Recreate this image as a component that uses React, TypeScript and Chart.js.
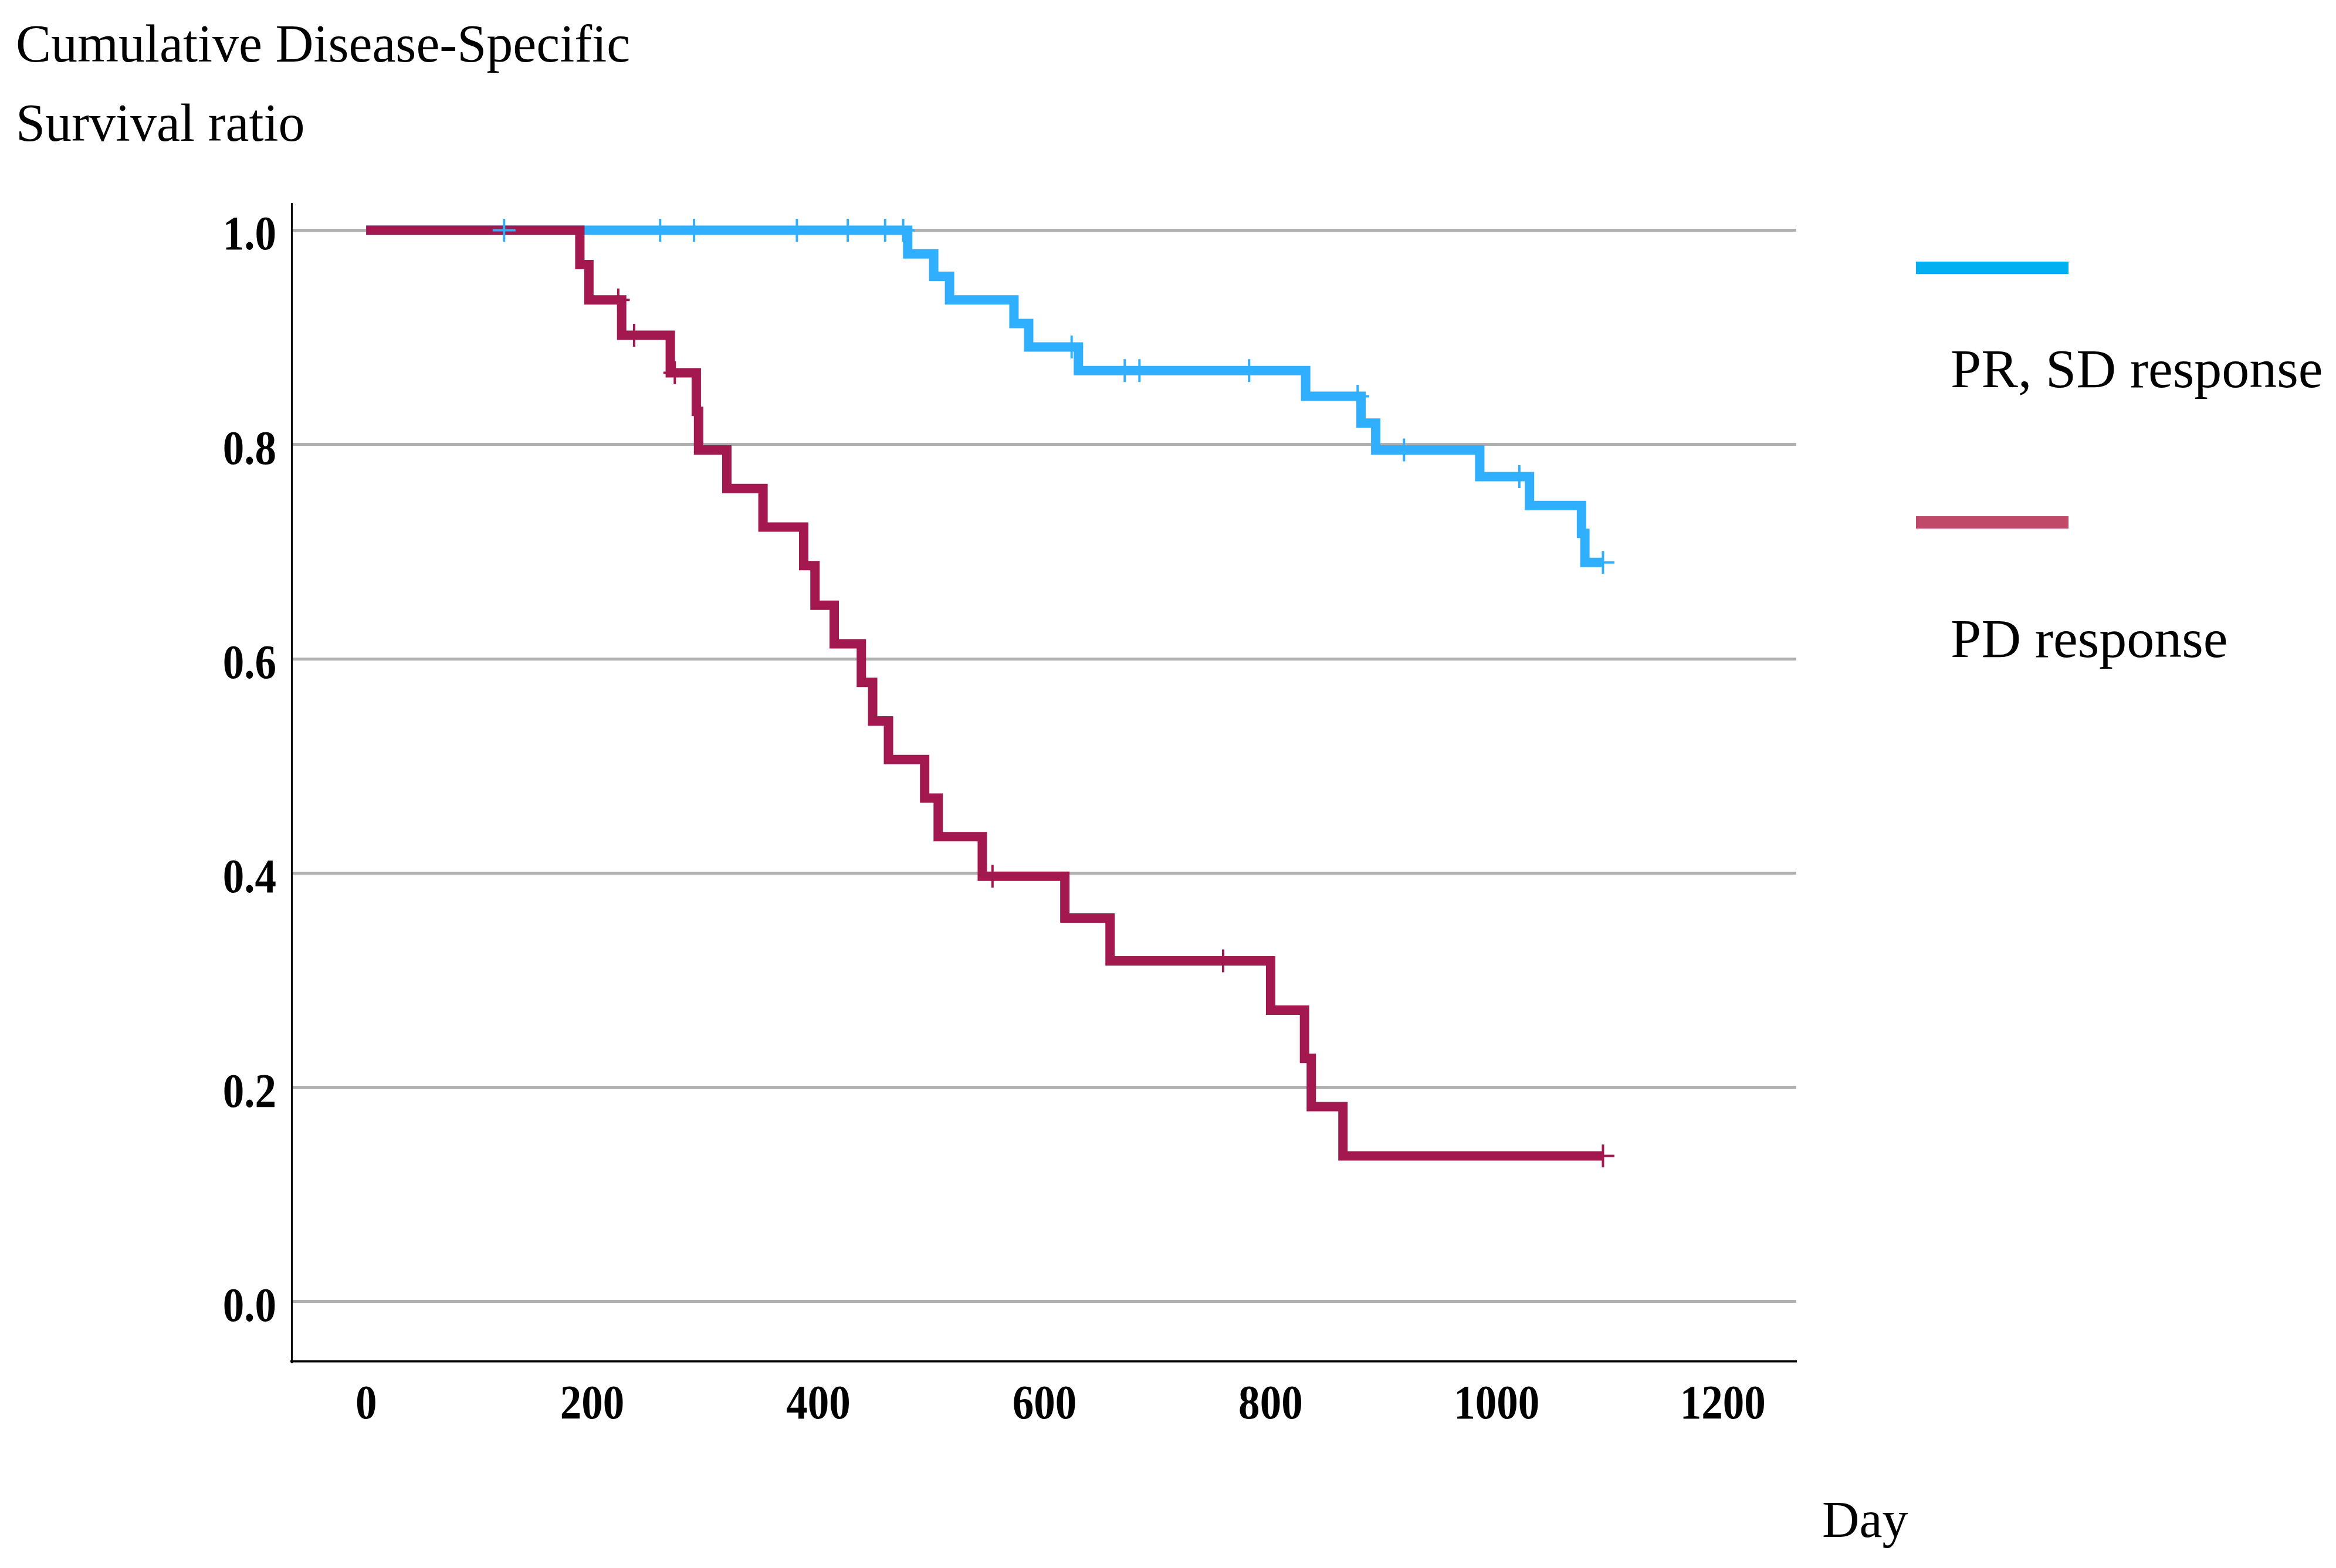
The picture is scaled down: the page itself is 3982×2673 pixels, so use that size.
import React, { useEffect, useRef } from "react";
import { Chart, registerables } from "chart.js";

Chart.register(...registerables);

// ---- Data ----
const prDays = [0, 479, 502, 516, 573, 586, 630, 831, 880, 893, 985, 1029, 1075, 1078, 1094];
const prSurv = [1.0, 0.978, 0.957, 0.935, 0.913, 0.891, 0.869, 0.845, 0.82, 0.795, 0.77, 0.743, 0.717, 0.69, 0.69];
const prCensorDays = [122, 260, 290, 381, 426, 459, 475, 624, 671, 684, 781, 877, 918, 1020, 1094];
const prCensorSurv = [1, 1, 1, 1, 1, 1, 1, 0.891, 0.869, 0.869, 0.869, 0.845, 0.795, 0.77, 0.69];

const pdDays = [0, 189, 197, 226, 269, 292, 294, 319, 351, 387, 397, 414, 438, 448, 462, 494, 506, 545, 618, 658, 800, 830, 836, 864, 1094];
const pdSurv = [1.0, 0.968, 0.935, 0.902, 0.867, 0.831, 0.795, 0.759, 0.723, 0.687, 0.65, 0.614, 0.578, 0.542, 0.506, 0.47, 0.434, 0.397, 0.358, 0.318, 0.272, 0.227, 0.182, 0.136, 0.136];
const pdCensorDays = [223, 237, 273, 554, 758, 1094];
const pdCensorSurv = [0.935, 0.902, 0.867, 0.397, 0.318, 0.136];

const xTicks = [0, 200, 400, 600, 800, 1000, 1200];
const yTicks = [0.0, 0.2, 0.4, 0.6, 0.8, 1.0];
const yTickLabels = ["0.0", "0.2", "0.4", "0.6", "0.8", "1.0"];
const xTickLabels = ["0", "200", "400", "600", "800", "1000", "1200"];

const titleLines = ["Cumulative Disease-Specific", "Survival ratio"];
const legendLabels = ["PR, SD response", "PD response"];
const xAxisLabel = "Day";

const PR_COLOR = "#31AFFF";
const PD_COLOR = "#A2184F";
const PR_LEGEND = "#00B0F0";
const PD_LEGEND = "#C04868";

const W = 3982;
const H = 2673;

function pts(xs: number[], ys: number[]) {
  return xs.map((x, i) => ({ x, y: ys[i] }));
}

function drawText(
  ctx: CanvasRenderingContext2D,
  text: string,
  x: number,
  y: number,
  font: string,
  align: CanvasTextAlign,
  sx = 1
) {
  ctx.save();
  ctx.font = font;
  ctx.fillStyle = "#000";
  ctx.textBaseline = "alphabetic";
  ctx.textAlign = align;
  ctx.translate(x, y);
  ctx.scale(sx, 1);
  ctx.fillText(text, 0, 0);
  ctx.restore();
}

const textPlugin = {
  id: "kmText",
  afterDraw(chart: any) {
    const ctx: CanvasRenderingContext2D = chart.ctx;
    const xs = chart.scales.x;
    const ys = chart.scales.y;
    const tickFont = 'bold 83px "Liberation Serif"';
    // y tick labels
    yTicks.forEach((v, i) => {
      const py = ys.getPixelForValue(v);
      drawText(ctx, yTickLabels[i], 471, py + 33, tickFont, "right", 0.88);
    });
    // x tick labels
    xTicks.forEach((v, i) => {
      const px = xs.getPixelForValue(v);
      drawText(ctx, xTickLabels[i], px, 2418, tickFont, "center", 0.88);
    });
    // title
    const titleFont = '90px "Liberation Serif"';
    drawText(ctx, titleLines[0], 27, 105, titleFont, "left");
    drawText(ctx, titleLines[1], 27, 240, titleFont, "left");
    // x axis label
    drawText(ctx, xAxisLabel, 3106, 2620, '88px "Liberation Serif"', "left");
    // legend
    ctx.save();
    ctx.fillStyle = PR_LEGEND;
    ctx.fillRect(3266, 446, 260, 21);
    ctx.fillStyle = PD_LEGEND;
    ctx.fillRect(3266, 880, 260, 21);
    ctx.restore();
    const legFont = '94px "Liberation Serif"';
    drawText(ctx, legendLabels[0], 3325, 660, legFont, "left");
    drawText(ctx, legendLabels[1], 3325, 1120, legFont, "left");
  },
};

export default function App() {
  const ref = useRef<HTMLCanvasElement | null>(null);

  useEffect(() => {
    if (!ref.current) return;
    const chart = new Chart(ref.current, {
      type: "line",
      data: {
        datasets: [
          {
            type: "scatter",
            label: "PR censor",
            data: pts(prCensorDays, prCensorSurv),
            showLine: false,
            pointStyle: "cross",
            pointRadius: 19.5,
            pointBorderWidth: 4,
            pointBorderColor: PR_COLOR,
            pointBackgroundColor: PR_COLOR,
            order: 0,
          } as any,
          {
            type: "scatter",
            label: "PD censor",
            data: pts(pdCensorDays, pdCensorSurv),
            showLine: false,
            pointStyle: "cross",
            pointRadius: 19.5,
            pointBorderWidth: 4,
            pointBorderColor: PD_COLOR,
            pointBackgroundColor: PD_COLOR,
            order: 1,
          } as any,
          {
            type: "line",
            label: legendLabels[1],
            data: pts(pdDays, pdSurv),
            borderColor: PD_COLOR,
            borderWidth: 16,
            stepped: "before",
            pointRadius: 0,
            borderJoinStyle: "miter",
            borderCapStyle: "butt",
            fill: false,
            order: 2,
          } as any,
          {
            type: "line",
            label: legendLabels[0],
            data: pts(prDays, prSurv),
            borderColor: PR_COLOR,
            borderWidth: 16,
            stepped: "before",
            pointRadius: 0,
            borderJoinStyle: "miter",
            borderCapStyle: "butt",
            fill: false,
            order: 3,
          } as any,
        ],
      },
      options: {
        responsive: false,
        animation: false,
        devicePixelRatio: 1,
        events: [],
        layout: { padding: { left: 497, right: W - 3062, top: 347, bottom: H - 2321 } },
        plugins: {
          legend: { display: false },
          tooltip: { enabled: false },
          title: { display: false },
        },
        scales: {
          x: {
            type: "linear",
            min: -66,
            max: 1265,
            afterBuildTicks: (scale: any) => {
              scale.ticks = xTicks.map((v) => ({ value: v }));
            },
            ticks: { display: false },
            grid: { display: false, drawTicks: false },
            border: { display: true, color: "#000", width: 3.5 },
          },
          y: {
            type: "linear",
            min: -0.0559,
            max: 1.0249,
            afterBuildTicks: (scale: any) => {
              scale.ticks = yTicks.map((v) => ({ value: v }));
            },
            ticks: { display: false },
            grid: { display: true, drawTicks: false, color: "#B0B0B0", lineWidth: 5 },
            border: { display: true, color: "#000", width: 3 },
          },
        },
      } as any,
      plugins: [textPlugin],
    });
    return () => chart.destroy();
  }, []);

  return (
    <div style={{ position: "fixed", left: 0, top: 0, width: W, height: H, background: "#fff" }}>
      <canvas ref={ref} width={W} height={H} style={{ display: "block", width: W, height: H }} />
    </div>
  );
}
